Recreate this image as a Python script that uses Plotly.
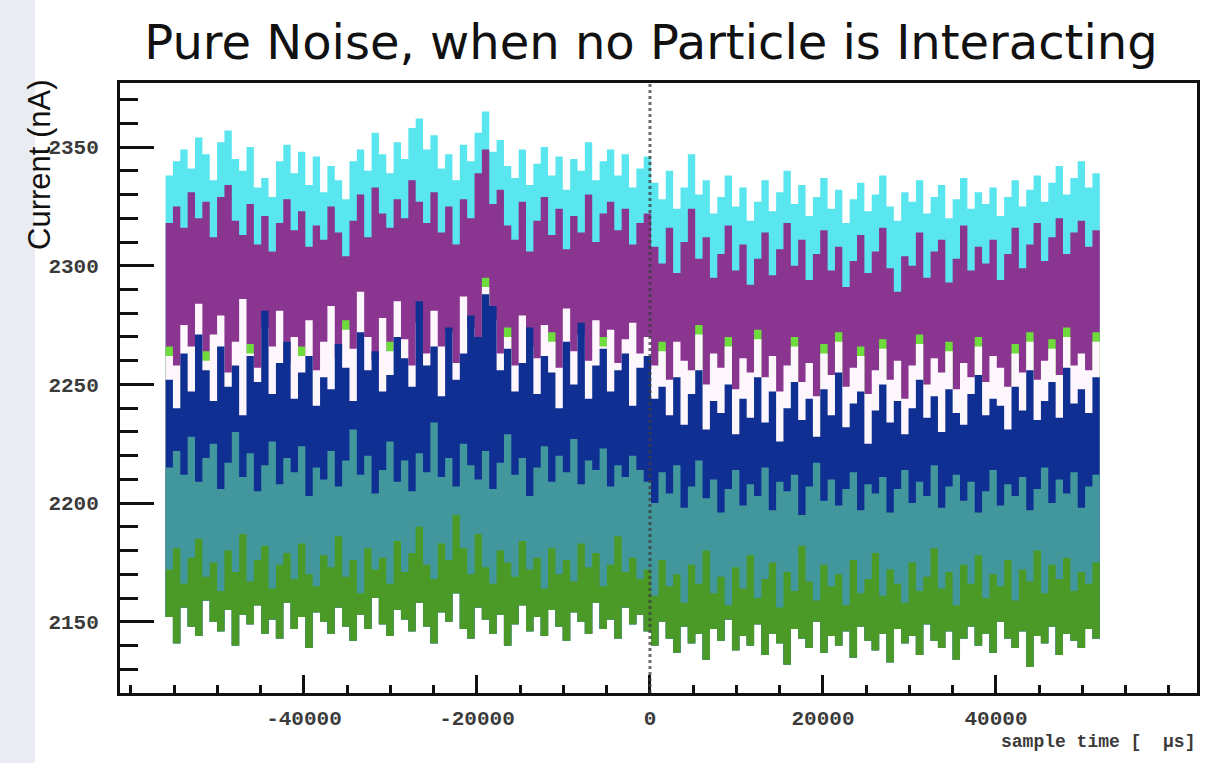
import numpy as np
import plotly.graph_objects as go

# ---- waveform bands (upper envelopes of each channel, sampled evenly in time) ----
N_SAMPLES = 128
sample_time = np.linspace(-56000, 52000, N_SAMPLES)

cyan_top = [
    2338, 2344, 2349, 2341, 2354, 2347, 2336, 2352, 2357, 2345, 2340, 2350, 2333, 2337, 2329, 2344,
    2351, 2339, 2348, 2334, 2346, 2331, 2342, 2336, 2328, 2344, 2349, 2340, 2356, 2347, 2339, 2352,
    2345, 2358, 2362, 2349, 2355, 2341, 2347, 2336, 2351, 2344, 2356, 2365, 2348, 2353, 2342, 2337,
    2349, 2334, 2343, 2350, 2338, 2346, 2332, 2345, 2340, 2352, 2336, 2344, 2349, 2338, 2347, 2333,
    2341,
    2346, 2335, 2328, 2340, 2324, 2333, 2347, 2330, 2336, 2322, 2329, 2338, 2325, 2333, 2319, 2327,
    2336, 2323, 2331, 2340, 2326, 2334, 2321, 2329, 2337, 2324, 2332, 2318, 2328, 2335, 2323, 2330,
    2338, 2325, 2319, 2331, 2327, 2336, 2322, 2329, 2334, 2320, 2328, 2337, 2324, 2331, 2326, 2333,
    2321, 2329, 2336, 2325, 2332, 2338, 2327, 2335, 2342, 2330, 2337, 2344, 2333, 2339, 2331,
]

purple_top = [
    2318, 2325, 2316, 2331, 2320, 2327, 2312, 2329, 2334, 2319, 2313, 2326, 2309, 2321, 2306, 2318,
    2328, 2315, 2323, 2308, 2317, 2311, 2325, 2314, 2304, 2319, 2330, 2312, 2333, 2322, 2316, 2328,
    2320, 2336, 2327, 2318, 2331, 2314, 2325, 2309, 2328, 2320, 2339, 2349, 2326, 2332, 2317, 2311,
    2327, 2306, 2319, 2329, 2313, 2324, 2307, 2321, 2314, 2330, 2310, 2322, 2327, 2315, 2324, 2309,
    2318,
    2322, 2308, 2301, 2316, 2297, 2310, 2324, 2303, 2312, 2295, 2305, 2317, 2298, 2309, 2292, 2303,
    2314, 2296, 2307, 2318, 2300, 2311, 2294, 2305, 2315, 2298, 2308, 2291, 2302, 2313, 2297, 2306,
    2316, 2299, 2289, 2304, 2300, 2314, 2295, 2306, 2311, 2293, 2303, 2317, 2298, 2308, 2301, 2311,
    2294, 2305, 2316, 2299, 2309, 2318, 2302, 2312, 2320, 2305, 2314, 2319, 2308, 2315, 2306,
]

lime_top = [
    2266, 2250, 2250, 2250, 2250, 2264, 2250, 2250, 2250, 2250, 2250, 2267, 2250, 2250, 2250, 2250,
    2250, 2250, 2266, 2250, 2250, 2250, 2250, 2250, 2277, 2250, 2250, 2250, 2250, 2250, 2268, 2250,
    2250, 2250, 2250, 2250, 2250, 2250, 2250, 2250, 2250, 2250, 2250, 2295, 2250, 2250, 2274, 2250,
    2250, 2250, 2250, 2250, 2272, 2250, 2250, 2250, 2250, 2250, 2250, 2270, 2250, 2250, 2250, 2250,
    2250,
    2240, 2240, 2268, 2240, 2240, 2240, 2240, 2275, 2240, 2240, 2240, 2270, 2240, 2240, 2240, 2273,
    2240, 2240, 2240, 2240, 2270, 2240, 2240, 2240, 2267, 2240, 2272, 2240, 2240, 2266, 2240, 2240,
    2269, 2240, 2240, 2240, 2240, 2271, 2240, 2240, 2240, 2268, 2240, 2240, 2240, 2270, 2240, 2240,
    2240, 2240, 2267, 2240, 2272, 2240, 2240, 2269, 2240, 2274, 2240, 2240, 2240, 2272, 2265,
]

white_top = [
    2262, 2258, 2275, 2266, 2284, 2260, 2271, 2279, 2255, 2268, 2286, 2263, 2257, 2274, 2266, 2281,
    2259, 2270, 2262, 2277, 2256, 2268, 2283, 2261, 2273, 2265, 2289, 2270, 2260, 2278, 2264, 2285,
    2269, 2258, 2276, 2263, 2281, 2266, 2272, 2259, 2287, 2274, 2268, 2291, 2277, 2263, 2270, 2258,
    2279, 2266, 2261, 2275, 2268, 2257, 2282, 2264, 2271, 2260, 2277, 2266, 2273, 2259, 2269, 2276,
    2263,
    2270, 2258, 2264, 2252, 2268, 2260, 2256, 2271, 2250, 2263, 2257, 2266, 2248, 2261, 2255, 2269,
    2253, 2262, 2247, 2258, 2266, 2251, 2259, 2245, 2263, 2254, 2268, 2249, 2257, 2262, 2246, 2256,
    2265, 2252, 2260, 2244, 2258, 2267, 2250, 2261, 2255, 2264, 2248, 2259, 2253, 2266, 2251, 2262,
    2257, 2249, 2263, 2255, 2268, 2252, 2260, 2265, 2254, 2270, 2258, 2263, 2256, 2268, 2261,
]

navy_top = [
    2252, 2240, 2263, 2247, 2271, 2256, 2243, 2266, 2249, 2258, 2237, 2262, 2251, 2281, 2246, 2259,
    2268, 2244, 2255, 2262, 2241, 2253, 2248, 2267, 2257, 2243, 2272, 2256, 2264, 2247, 2254, 2270,
    2261, 2249, 2285, 2258, 2266, 2245, 2274, 2252, 2263, 2279, 2270, 2288, 2283, 2256, 2265, 2247,
    2259, 2274, 2246, 2262, 2255, 2240, 2268, 2250, 2276, 2244, 2258, 2265, 2247, 2256, 2263, 2241,
    2257,
    2262, 2244, 2249, 2237, 2253, 2233, 2246, 2256, 2231, 2243, 2238, 2250, 2229, 2244, 2236, 2253,
    2234, 2247, 2226, 2240, 2251, 2235, 2244, 2228, 2248, 2237, 2255, 2232, 2242, 2247, 2225, 2239,
    2250, 2234, 2243, 2229, 2240, 2252, 2236, 2245, 2230, 2248, 2238, 2233, 2246, 2254, 2237, 2244,
    2241, 2231, 2249, 2239, 2256, 2235, 2243, 2251, 2236, 2257, 2242, 2248, 2238, 2253, 2246,
]

teal_top = [
    2215, 2222, 2212, 2228, 2209, 2219, 2225, 2206, 2217, 2230, 2211, 2221, 2205, 2216, 2226, 2208,
    2219, 2213, 2224, 2203, 2215, 2210, 2222, 2207, 2218, 2231, 2212, 2220, 2204, 2214, 2226, 2209,
    2218, 2205, 2221, 2213, 2234, 2211, 2219, 2207, 2225, 2216, 2210, 2222, 2206, 2217, 2229, 2212,
    2219, 2203, 2215, 2224, 2209, 2220, 2213, 2227, 2208, 2218, 2214, 2223, 2207, 2216, 2211, 2220,
    2214,
    2209, 2200, 2213, 2204, 2216, 2198, 2207, 2218, 2202, 2210, 2196, 2206, 2214, 2199, 2208, 2203,
    2215, 2197, 2209, 2205, 2212, 2195, 2207, 2217, 2201, 2210, 2199, 2206, 2213, 2197, 2208, 2204,
    2211, 2196, 2206, 2214, 2200, 2209, 2203, 2216, 2198, 2207, 2212, 2201, 2209, 2196, 2205, 2214,
    2199, 2208, 2203, 2211, 2197, 2206, 2215, 2200, 2210, 2204, 2213, 2198, 2207, 2212, 2203,
]

green_top = [
    2172, 2181, 2166, 2177, 2185, 2169, 2175, 2163, 2180, 2171, 2187, 2167, 2176, 2182, 2164, 2174,
    2179, 2168, 2183, 2170, 2165, 2178, 2173, 2186, 2169, 2176, 2162, 2181, 2172, 2177, 2166, 2184,
    2171, 2179, 2190, 2174, 2168, 2183, 2176, 2195, 2181, 2170, 2187, 2173, 2166, 2180, 2175, 2169,
    2184, 2172, 2177, 2164, 2181, 2170, 2176, 2167, 2183, 2173, 2179, 2165, 2174, 2186, 2171, 2177,
    2168,
    2172, 2161, 2176, 2165, 2170, 2158, 2174, 2166, 2180, 2162, 2169, 2157, 2173, 2164, 2178, 2160,
    2168, 2175, 2156, 2171, 2163, 2182, 2167, 2159, 2174, 2165, 2170, 2157, 2176, 2162, 2168, 2179,
    2161, 2172, 2166, 2158, 2175, 2163, 2169, 2181, 2164, 2171, 2157, 2174, 2166, 2178, 2160, 2170,
    2165, 2176, 2159, 2172, 2167, 2180, 2162, 2174, 2168, 2177, 2163, 2171, 2166, 2175, 2169,
]

# lower envelope of the bottom channel (floor of the whole stack)
green_low = [
    2152, 2141, 2156, 2148, 2144, 2159, 2150, 2146, 2155, 2140, 2153, 2149, 2157, 2145, 2151, 2143,
    2158, 2147, 2152, 2139, 2154, 2150, 2145, 2156, 2148, 2142, 2153, 2147, 2160, 2149, 2144, 2155,
    2151, 2146, 2158, 2148, 2141, 2154, 2150, 2162, 2147, 2143, 2156, 2151, 2145, 2153, 2140, 2149,
    2157, 2146, 2152, 2144, 2155, 2148, 2142, 2154, 2150, 2145, 2158, 2147, 2151, 2143, 2156, 2149,
    2153,
    2146, 2140, 2150, 2143, 2137, 2148, 2141, 2145, 2134, 2147, 2142, 2151, 2138, 2144, 2140, 2149,
    2136, 2145, 2141, 2132, 2147, 2143, 2139, 2150, 2137, 2144, 2140, 2146, 2135, 2148, 2142, 2138,
    2145, 2133, 2147, 2141, 2144, 2136, 2149, 2142, 2139, 2146, 2134, 2143, 2148, 2140, 2145, 2137,
    2150, 2143, 2139, 2146, 2131, 2144, 2141, 2148, 2136, 2145, 2142, 2139, 2147, 2143, 2146,
]

# ---- axis ticks ----
x_tick_vals = [-40000, -20000, 0, 20000, 40000]
x_tick_text = ["-40000", "-20000", "0", "20000", "40000"]
y_tick_vals = [2150, 2200, 2250, 2300, 2350]
y_tick_text = ["2150", "2200", "2250", "2300", "2350"]

X_RANGE = [-61270, 63240]
Y_RANGE = [2120, 2377]

# drawing order: each later band paints over the lower part of the previous one
bands = [
    ("cyan", cyan_top, "#5ae6ef"),
    ("purple", purple_top, "#8a3590"),
    ("lime", lime_top, "#6fdc3e"),
    ("white", white_top, "#fdf6fd"),
    ("navy", navy_top, "#0f2f93"),
    ("teal", teal_top, "#41979c"),
    ("green", green_top, "#4b9a27"),
]

fig = go.Figure()
for name, values, color in bands:
    # invisible floor, then the band filled from the floor up to its upper envelope
    fig.add_trace(go.Scatter(
        x=sample_time, y=green_low, mode="lines",
        line=dict(shape="hv", width=0, color=color),
        hoverinfo="skip", showlegend=False,
    ))
    fig.add_trace(go.Scatter(
        x=sample_time, y=values, name=name, mode="lines",
        line=dict(shape="hv", width=0, color=color),
        fill="tonexty", fillcolor=color, hoverinfo="skip", showlegend=False,
    ))

tick_font = dict(family="Liberation Mono", size=21, color="#3a3a3a", weight="bold")

fig.update_xaxes(
    range=X_RANGE, showgrid=False, zeroline=False,
    showline=True, linecolor="#111", linewidth=3, mirror=True,
    tickmode="array", tickvals=x_tick_vals, ticktext=x_tick_text,
    ticks="inside", ticklen=18, tickwidth=3, tickcolor="#111",
    minor=dict(ticks="inside", ticklen=8, tickwidth=3, tickcolor="#111",
               tickmode="linear", tick0=0, dtick=5000, showgrid=False),
    tickfont=tick_font, ticklabelstandoff=4,
)
fig.update_yaxes(
    range=Y_RANGE, showgrid=False, zeroline=False,
    showline=True, linecolor="#111", linewidth=3, mirror=True,
    tickmode="array", tickvals=y_tick_vals, ticktext=y_tick_text,
    ticks="inside", ticklen=34, tickwidth=3, tickcolor="#111",
    minor=dict(ticks="inside", ticklen=18, tickwidth=3, tickcolor="#111",
               tickmode="linear", tick0=2150, dtick=10, showgrid=False),
    tickfont=tick_font, ticklabelstandoff=14,
)

W, H = 1217, 763
ML, MR, MT, MB = 120, 20, 83, 70
pw, ph = W - ML - MR, H - MT - MB

fig.update_layout(
    width=W, height=H,
    margin=dict(l=ML, r=MR, t=MT, b=MB, pad=0),
    paper_bgcolor="white", plot_bgcolor="white",
    title=dict(
        text="Pure Noise, when no Particle is Interacting",
        font=dict(family="DejaVu Sans", size=48, color="#111"),
        x=(651 - ML) / pw, xref="paper", xanchor="center",
        y=1 - 42 / H, yref="container", yanchor="middle",
    ),
    shapes=[
        # light strip along the left edge of the page
        dict(type="rect", xref="paper", yref="paper",
             x0=-ML / pw, x1=(35 - ML) / pw, y0=-MB / ph, y1=1 + MT / ph,
             fillcolor="#e9ecf0", line=dict(width=0), layer="below"),
        # dotted marker at t = 0
        dict(type="line", xref="x", yref="paper", x0=0, x1=0, y0=0, y1=1,
             line=dict(color="rgba(60,60,60,0.75)", width=3, dash="dot"), layer="above"),
    ],
    annotations=[
        dict(text="Current (nA)", textangle=-90, showarrow=False,
             xref="paper", yref="paper", x=(39 - ML) / pw, y=(H - MB - 165) / ph,
             xanchor="center", yanchor="middle",
             font=dict(family="Liberation Sans", size=31, color="#111")),
        dict(text="sample time [  \u00b5s]", showarrow=False,
             xref="paper", yref="paper", x=(1197 - ML) / pw, y=-(742 - (H - MB)) / ph,
             xanchor="right", yanchor="middle",
             font=dict(family="Liberation Mono", size=18, color="#3a3a3a", weight="bold")),
    ],
)

fig.write_html("out.html")
